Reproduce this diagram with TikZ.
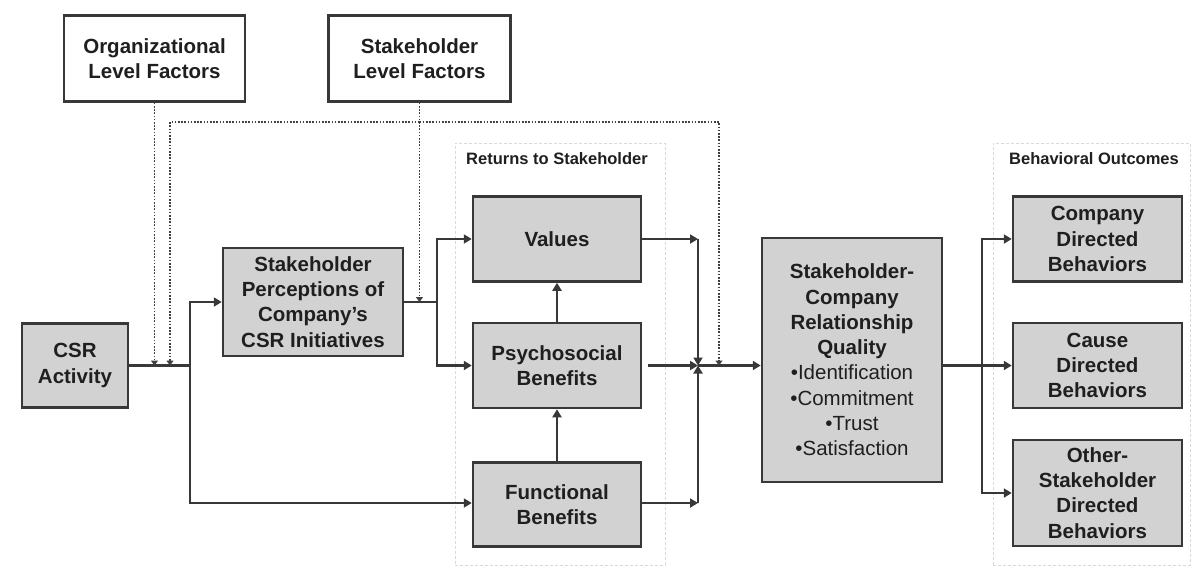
\documentclass[tikz,border=0pt]{standalone}
\usepackage{fontspec}
\setmainfont{Liberation Sans}
\usetikzlibrary{arrows.meta}
\begin{document}
\begin{tikzpicture}[x=1pt,y=-1pt,
 box/.style={draw=black!78, line width=2.5pt, fill=gray!35, align=center, font=\fontsize{20.5}{25.3}\selectfont\bfseries, inner sep=0pt, text=black!88},
 wbox/.style={box, fill=white},
 conn/.style={draw=black!78, line width=2.8pt, -{Triangle[length=8pt,width=9pt]}},
 plain/.style={draw=black!78, line width=2.8pt},
 dot/.style={draw=black!75, line width=1.8pt, dash pattern=on 1.6pt off 1.6pt},
 dotarr/.style={dot, -{Triangle[length=5pt,width=7pt]}},
 region/.style={draw=gray!30, line width=0.8pt, dash pattern=on 3pt off 2pt, inner sep=0pt},
 rlabel/.style={font=\fontsize{16.5}{18}\selectfont\bfseries, text=black!88}
]
\useasboundingbox (0,0) rectangle (1192,574);
\fill[white] (0,0) rectangle (1192,574);

% grouping frames
\node[region, minimum width=210pt, minimum height=422pt] (ret) at (560,354) {};
\node[rlabel] (retl) at (557,159) {Returns to Stakeholder};
\node[region, minimum width=197pt, minimum height=422pt] (beh) at (1091.5,354) {};
\node[rlabel] (behl) at (1094,159) {Behavioral Outcomes};

% boxes
\node[wbox, minimum width=181pt, minimum height=86pt] (org) at (154.5,58.5) {Organizational\\Level Factors};
\node[wbox, minimum width=182pt, minimum height=86pt] (slf) at (419.5,58.5) {Stakeholder\\Level Factors};
\node[box, minimum width=106pt, minimum height=84pt] (csr) at (75,365.5) {CSR\\Activity};
\node[box, minimum width=180pt, minimum height=108pt] (perc) at (313,302) {Stakeholder\\Perceptions of\\Company's\\CSR Initiatives};
\node[box, minimum width=168pt, minimum height=85pt] (val) at (557,239) {Values};
\node[box, minimum width=168pt, minimum height=85pt] (psy) at (557,365.5) {Psychosocial\\Benefits};
\node[box, minimum width=168pt, minimum height=84pt] (fun) at (557,504.5) {Functional\\Benefits};
\node[box, minimum width=180pt, minimum height=244pt] (rq) at (852,360) {Stakeholder-\\Company\\Relationship\\Quality\\\mdseries\textbullet Identification\\\mdseries\textbullet Commitment\\\mdseries\textbullet Trust\\\mdseries\textbullet Satisfaction};
\node[box, minimum width=169pt, minimum height=85pt] (comp) at (1097.5,239) {Company\\Directed\\Behaviors};
\node[box, minimum width=169pt, minimum height=85pt] (cause) at (1097.5,365.5) {Cause\\Directed\\Behaviors};
\node[box, minimum width=169pt, minimum height=106pt] (oth) at (1097.5,493) {Other-\\Stakeholder\\Directed\\Behaviors};

% junction coordinates
\coordinate (j1) at (190,365.5);
\coordinate (j2) at (437,302);
\coordinate (cv) at (698,239);
\coordinate (cf) at (698,503);
\coordinate (j3) at (698,365.5);
\coordinate (j4) at (982,365.5);
\coordinate (dj) at (419.5,122);
\coordinate (dl) at (170,365.5);
\coordinate (dr) at (719,365.5);

% solid connectors
\draw[plain] (csr.east) -- (j1);
\draw[conn] (j1) |- (perc.west);
\draw[conn] (j1) |- (fun.west |- cf);
\draw[plain] (perc.east) -- (j2);
\draw[conn] (j2) |- (val.west);
\draw[conn] (j2) |- (psy.west);
\draw[conn] (fun.north) -- (psy.south);
\draw[conn] (psy.north) -- (val.south);
\draw[conn] (val.east) -- (cv);
\draw[conn] (cv) -- (j3);
\draw[conn] (fun.east |- cf) -- (cf);
\draw[conn] (cf) -- (j3);
\draw[conn] ([xshift=6pt]psy.east) -- (j3);
\draw[conn] (j3) -- (j3 -| rq.west);
\draw[conn] (rq.east |- cause.west) -- (cause.west);
\draw[conn] (j4) |- (comp.west);
\draw[conn] (j4) |- (oth.west);

% dotted moderators
\draw[dotarr] (org.south) -- (org.south |- j1);
\draw[dotarr] (slf.south) -- (slf.south |- j2);
\draw[dotarr] (dj) -| (dl);
\draw[dotarr] (dj) -| (dr);
\end{tikzpicture}
\end{document}
